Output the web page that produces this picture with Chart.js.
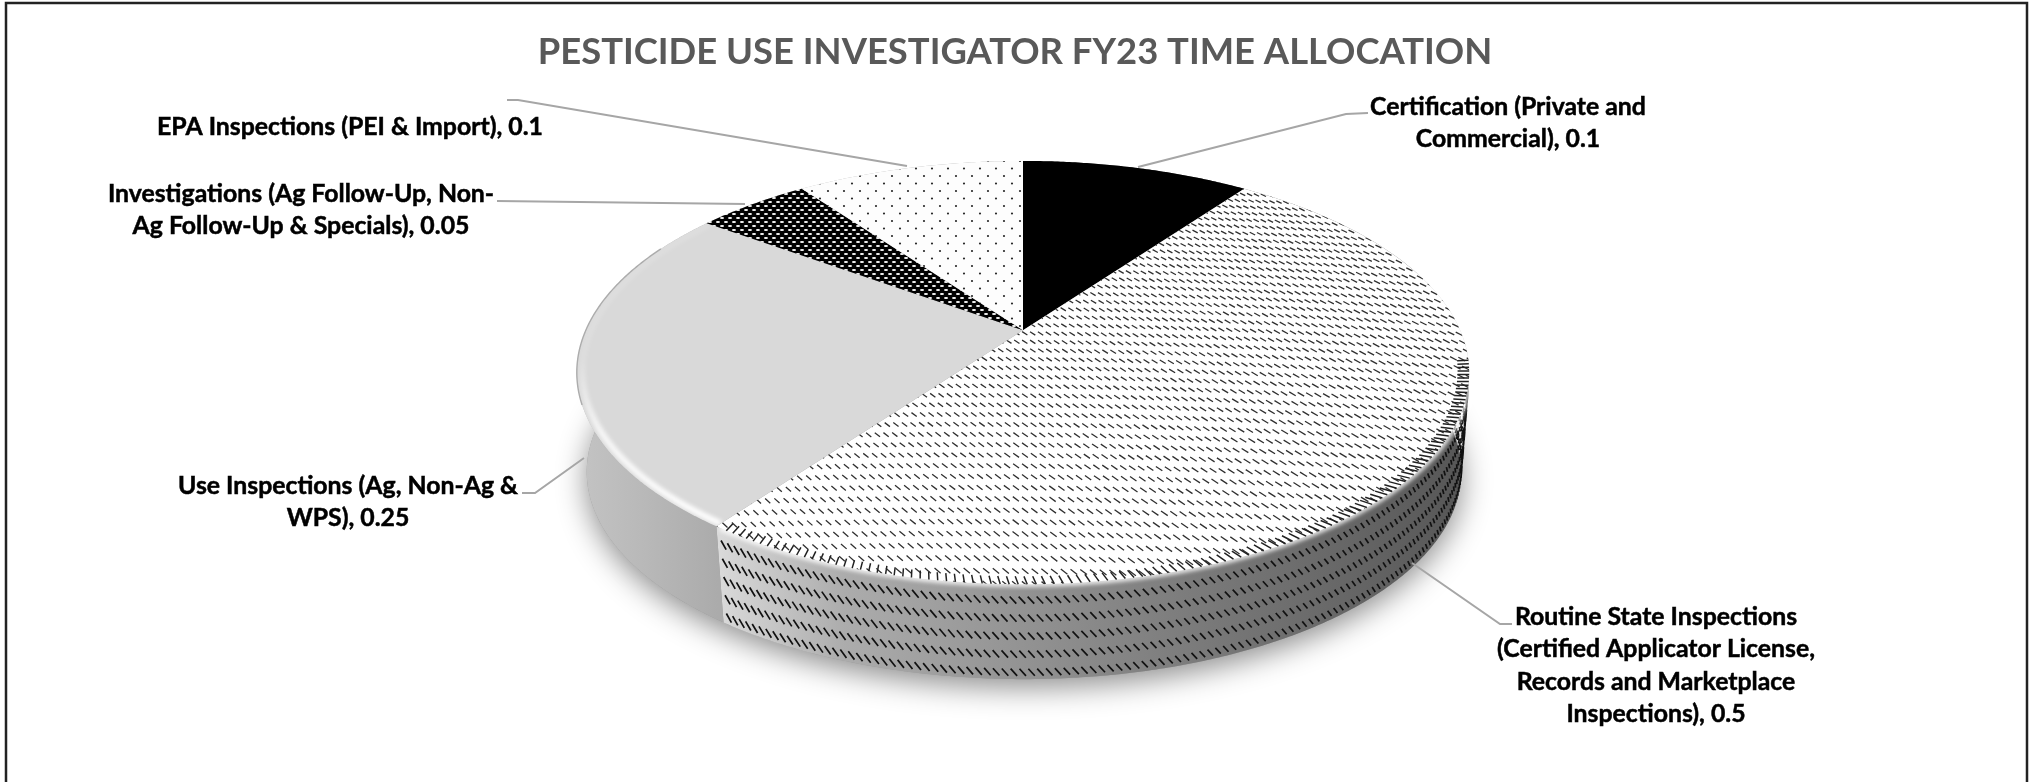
<!DOCTYPE html>
<html>
<head>
<meta charset="utf-8">
<style>
  html, body { margin: 0; padding: 0; background: #fff; }
  canvas { display: block; }
</style>
<script src="https://cdn.jsdelivr.net/npm/chart.js@4/dist/chart.umd.js"></script>
</head>
<body>
<canvas id="chart" width="2030" height="782"></canvas>
<script>
const chartTitle = "PESTICIDE USE INVESTIGATOR FY23 TIME ALLOCATION"
const categories = [
    "Certification (Private and Commercial)",
    "Routine State Inspections (Certified Applicator License, Records and Marketplace Inspections)",
    "Use Inspections (Ag, Non-Ag & WPS)",
    "Investigations (Ag Follow-Up, Non-Ag Follow-Up & Specials)",
    "EPA Inspections (PEI & Import)"
]
const values = [0.1, 0.5, 0.25, 0.05, 0.1]
const labelLines = [
    ["Certification (Private and", "Commercial), 0.1"],
    ["Routine State Inspections", "(Certified Applicator License,", "Records and Marketplace", "Inspections), 0.5"],
    ["Use Inspections (Ag, Non-Ag &", "WPS), 0.25"],
    ["Investigations (Ag Follow-Up, Non-", "Ag Follow-Up & Specials), 0.05"],
    ["EPA Inspections (PEI & Import), 0.1"]
]

// label centre x, first line centre y
const labelAt = [[1508, 107], [1656, 617], [348, 486], [301, 194], [350, 127]]
const leaders = [
    [[1138, 167], [1346, 114], [1368, 113]],
    [[1412, 563], [1500, 624], [1512, 624]],
    [[584, 458], [535, 493], [522, 493]],
    [[745, 204], [497, 201]],
    [[907, 166], [518, 100], [507, 100]]
]

// projection of the flat pie onto the tilted disc
const tilt = { a: 1.704, b: 0.792, k: 0.2, depth: 100, shrink: 0.98, shift: 1, offsetX: 8 }

function plane(el, u, v) {
    const R = el.outerRadius
    const w = 1 - tilt.k * v
    return [el.x + tilt.offsetX + tilt.a * R * u / w, el.y + tilt.b * R * v / w]
}

function project(el, theta, r = 1, bottom = false) {
    const R = el.outerRadius
    const s = bottom ? tilt.shrink : 1
    const x = Math.cos(theta) * r, y = Math.sin(theta) * r
    const w = 1 - tilt.k * y
    return [
        el.x + tilt.offsetX + (bottom ? tilt.shift : 0) + s * tilt.a * R * x / w,
        el.y + (bottom ? tilt.depth : 0) + s * tilt.b * R * y / w
    ]
}

function arcPoints(el, from, to, r, bottom) {
    const n = Math.max(2, Math.ceil(Math.abs(to - from) / 0.008))
    const pts = []
    for (let i = 0; i <= n; i++) {
        pts.push(project(el, from + (to - from) * i / n, r, bottom))
    }
    return pts
}

function slicePath(ctx, el) {
    ctx.beginPath()
    ctx.moveTo(el.x + tilt.offsetX, el.y)
    arcPoints(el, el.startAngle, el.endAngle, 1, false).forEach(p => ctx.lineTo(p[0], p[1]))
    ctx.closePath()
}

function tile(w, h, paint) {
    const c = document.createElement("canvas")
    c.width = w
    c.height = h
    const g = c.getContext("2d")
    paint(g)
    return g.createPattern(c, "repeat")
}

const ctx0 = document.getElementById("chart").getContext("2d")

const dots = tile(16, 15, g => {
    g.fillStyle = "#fdfdfd"
    g.fillRect(0, 0, 16, 15)
    g.fillStyle = "#2a2a2a"
    g.beginPath()
    g.arc(4, 3.5, 1.1, 0, Math.PI * 2)
    g.arc(12, 11, 1.1, 0, Math.PI * 2)
    g.fill()
})
const dense = tile(8, 8, g => {
    g.fillStyle = "#000"
    g.fillRect(0, 0, 8, 8)
    g.fillStyle = "#fff"
    g.beginPath()
    g.ellipse(2, 2, 2.1, 0.9, 0, 0, Math.PI * 2)
    g.ellipse(6, 6, 2.1, 0.9, 0, 0, Math.PI * 2)
    g.fill()
})
const fills = ["#000000", "#FFFFFF", "#D9D9D9", dense, dots]

// top face of every slice, angles come from the pie controller
Chart.ArcElement.prototype.draw = function (ctx) {
    ctx.save()
    slicePath(ctx, this)
    ctx.fillStyle = this.options.backgroundColor
    ctx.fill()
    ctx.restore()
}

const pie3d = {
    id: "pie3d",
    beforeDatasetsDraw(chart) {
        const ctx = chart.ctx
        const arcs = chart.getDatasetMeta(0).data
        const first = arcs[0]

        // soft shadow below the disc
        ctx.save()
        ctx.shadowColor = "rgba(0,0,0,0.45)"
        ctx.shadowBlur = 30
        ctx.shadowOffsetY = 8
        ctx.fillStyle = "#999"
        ctx.beginPath()
        arcPoints(first, 0, Math.PI * 2, 1, true).forEach(p => ctx.lineTo(p[0], p[1]))
        ctx.closePath()
        ctx.fill()
        ctx.restore()

        arcs.forEach((el, i) => {
            const top = arcPoints(el, el.startAngle, el.endAngle, 1, false)
            const low = arcPoints(el, el.startAngle, el.endAngle, 1, true)
            const g = ctx.createLinearGradient(575, 0, 1472, 0)
            if (i === 2) {
                g.addColorStop(0, "#C4C4C4")
                g.addColorStop(0.08, "#B8B8B8")
                g.addColorStop(0.16, "#ABABAB")
            } else {
                g.addColorStop(0.16, "#DADADA")
                g.addColorStop(0.3, "#ACACAC")
                g.addColorStop(0.6, "#868686")
                g.addColorStop(0.88, "#646464")
                g.addColorStop(1, "#555555")
            }
            ctx.beginPath()
            top.forEach(p => ctx.lineTo(p[0], p[1]))
            low.reverse().forEach(p => ctx.lineTo(p[0], p[1]))
            ctx.closePath()
            ctx.fillStyle = g
            ctx.fill()
        })

        // dashes on the patterned wall
        const el = arcs[1]
        ctx.save()
        ctx.strokeStyle = "#111"
        ctx.lineWidth = 1.7
        ctx.beginPath()
        const point = (a, v) => {
            const p = project(el, a, 1, false), q = project(el, a, 1, true)
            return [p[0] + (q[0] - p[0]) * v, p[1] + (q[1] - p[1]) * v]
        }
        for (const t of [0.13, 0.32, 0.51, 0.7, 0.89]) {
            for (let th = Math.max(el.startAngle, -0.5); th < el.endAngle; th += 0.0165) {
                const s = point(th, t), e = point(th - 0.012, t + 0.075)
                ctx.moveTo(s[0], s[1])
                ctx.lineTo(e[0], e[1])
            }
        }
        ctx.stroke()
        ctx.restore()
    },
    afterDatasetsDraw(chart) {
        const ctx = chart.ctx
        const arcs = chart.getDatasetMeta(0).data
        const use = arcs[2]
        const routine = arcs[1]

        // soft white edge where the hatched face meets its wall
        ctx.save()
        ctx.strokeStyle = "rgba(255,255,255,0.9)"
        ctx.lineWidth = 5
        ctx.filter = "blur(2px)"
        ctx.beginPath()
        arcPoints(routine, -0.3, routine.endAngle - 0.01, 1, false).forEach(p => ctx.lineTo(p[0], p[1]))
        ctx.stroke()
        ctx.restore()

        // dashed hatch of the routine slice, laid out on the pie's own plane
        ctx.save()
        slicePath(ctx, routine)
        ctx.clip()
        ctx.strokeStyle = "#303030"
        ctx.lineWidth = 1.3
        ctx.beginPath()
        for (let row = -1.1; row < 1.1; row += 0.041) {
            for (let u = -1.1; u < 1.1; u += 0.018) {
                const v = row + 0.066 * u * u + 0.02 * u
                const s = plane(routine, u, v), e = plane(routine, u + 0.012, v + 0.0165)
                ctx.moveTo(s[0], s[1])
                ctx.lineTo(e[0], e[1])
            }
        }
        ctx.stroke()
        ctx.restore()

        // dashes crossing the bevelled rim
        ctx.save()
        ctx.strokeStyle = "#222"
        ctx.lineWidth = 1.5
        ctx.beginPath()
        for (let th = 0.15; th < routine.endAngle - 0.01; th += 0.0165) {
            const s = project(routine, th, 0.975), e = project(routine, th - 0.006, 1)
            ctx.moveTo(s[0], s[1])
            ctx.lineTo(e[0], e[1])
        }
        ctx.stroke()
        ctx.restore()

        // bevel highlight on the rim of the flat slice
        ctx.save()
        slicePath(ctx, use)
        ctx.clip()
        const g = ctx.createLinearGradient(0, 360, 0, 520)
        g.addColorStop(0, "rgba(255,255,255,0.15)")
        g.addColorStop(0.45, "rgba(255,255,255,0.8)")
        g.addColorStop(1, "rgba(255,255,255,1)")
        ctx.strokeStyle = g
        ctx.lineWidth = 6
        ctx.filter = "blur(2px)"
        ctx.beginPath()
        arcPoints(use, use.startAngle, use.endAngle, 0.988, false).forEach(p => ctx.lineTo(p[0], p[1]))
        ctx.stroke()
        ctx.restore()

        // thin grey edge on the left of the rim
        ctx.save()
        ctx.strokeStyle = "#ACACAC"
        ctx.lineWidth = 1.4
        ctx.beginPath()
        arcPoints(use, Math.PI - 0.35, Math.PI + 0.45, 1, false).forEach(p => ctx.lineTo(p[0], p[1]))
        ctx.stroke()
        ctx.restore()

        // leader lines
        ctx.save()
        ctx.strokeStyle = "#A6A6A6"
        ctx.lineWidth = 2
        leaders.forEach(line => {
            ctx.beginPath()
            line.forEach(p => ctx.lineTo(p[0], p[1]))
            ctx.stroke()
        })
        ctx.restore()

        // data labels
        ctx.save()
        ctx.fillStyle = "#000"
        ctx.strokeStyle = "#000"
        ctx.lineWidth = 0.5
        ctx.font = "bold 24.8px Lato"
        ctx.textAlign = "center"
        ctx.textBaseline = "middle"
        labelLines.forEach((lines, i) => {
            lines.forEach((text, j) => {
                const y = labelAt[i][1] + j * 32.5
                ctx.fillText(text, labelAt[i][0], y)
                ctx.strokeText(text, labelAt[i][0], y)
            })
        })
        ctx.restore()

        // chart frame
        ctx.save()
        ctx.strokeStyle = "#222"
        ctx.lineWidth = 2.5
        ctx.beginPath()
        ctx.moveTo(6, 782)
        ctx.lineTo(6, 3)
        ctx.lineTo(2027, 3)
        ctx.lineTo(2027, 782)
        ctx.stroke()
        ctx.restore()
    }
}

new Chart(ctx0, {
    type: "pie",
    data: {
        labels: categories,
        datasets: [{
            data: values,
            backgroundColor: fills,
            hoverBackgroundColor: fills,
            borderWidth: 0
        }]
    },
    options: {
        responsive: false,
        animation: false,
        events: [],
        layout: { padding: { bottom: 195.2 } },
        plugins: {
            legend: { display: false },
            tooltip: { enabled: false },
            title: {
                display: true,
                text: chartTitle,
                color: "#595959",
                font: { family: "Lato", size: 36.4, weight: "bold" },
                padding: { top: 30, bottom: 0 }
            }
        }
    },
    plugins: [pie3d]
})
</script>
</body>
</html>
